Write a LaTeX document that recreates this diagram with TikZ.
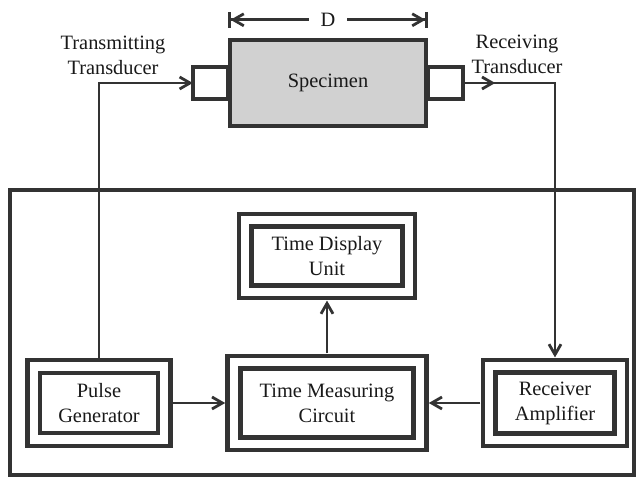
\documentclass[tikz,border=0pt]{standalone}
\usepackage{fontspec}
\setmainfont{Liberation Serif}
\usetikzlibrary{arrows.meta,positioning,decorations.markings}

\begin{document}
\begin{tikzpicture}[x=0.25mm,y=-0.25mm,
  every node/.style={font=\fontsize{14.5}{17.8}\selectfont, text=black!90},
  block/.style={draw=black!80, line width=1.1mm, double, double distance=2.1mm,
    outer sep=2.2mm, align=center},
  conn/.style={draw=black!80, line width=0.7mm,
    -{Straight Barb[length=2.6mm,width=3mm]}},
  dimline/.style={draw=black!80, line width=0.7mm,
    {Bar[width=4mm]Straight Barb[length=2.6mm,width=3mm]}-{Straight Barb[length=2.6mm,width=3mm]Bar[width=4mm]}},
  midarrow/.style={postaction={decorate}, decoration={markings,
    mark=at position #1 with {\arrow{Straight Barb[length=2.6mm,width=3mm]}}}}
]
\useasboundingbox (0,0) rectangle (636,477);

% specimen with the two transducers
\node[draw=black!80, line width=1.1mm, fill=black!18, minimum width=49mm, minimum height=21.5mm] (spec) at (328,83) {Specimen};
\node[draw=black!80, line width=1.1mm, minimum width=8.75mm, minimum height=8mm, outer sep=0pt, left=0pt of spec] (ttr) {};
\node[draw=black!80, line width=1.1mm, minimum width=8.75mm, minimum height=8mm, outer sep=0pt, right=0pt of spec] (rtr) {};
\node[align=center] (ttlabel) at (113,55) {Transmitting\\Transducer};
\node[align=center] (rtlabel) at (517,54) {Receiving\\Transducer};

% length of the specimen
\coordinate (dl) at ([yshift=4.5mm]spec.north west);
\coordinate (dr) at ([yshift=4.5mm]spec.north east);
\draw[dimline] (dl) -- node[fill=white, inner xsep=3mm] (dlabel) {D} (dr);

% the measuring instrument
\draw[black!80, line width=0.8mm] (10,190) rectangle (634,475);
\node[block, minimum width=32.6mm, minimum height=18.3mm] (pulse) at (99,403) {Pulse\\Generator};
\node[block, minimum width=46.5mm, minimum height=20.4mm] (tmc) at (327,403) {Time Measuring\\Circuit};
\node[block, minimum width=32.9mm, minimum height=18.4mm] (recv) at (555,403) {Receiver\\Amplifier};
\node[block, minimum width=40.9mm, minimum height=17.9mm] (disp) at (327,256) {Time Display\\Unit};

% connections
\draw[conn] (pulse.north) |- (ttr.west);
\draw[conn, midarrow=8mm] (rtr.east) -| (recv.north);
\draw[conn] (pulse) -- (tmc);
\draw[conn] (recv) -- (tmc);
\draw[conn] (tmc) -- (disp);
\end{tikzpicture}
\end{document}
